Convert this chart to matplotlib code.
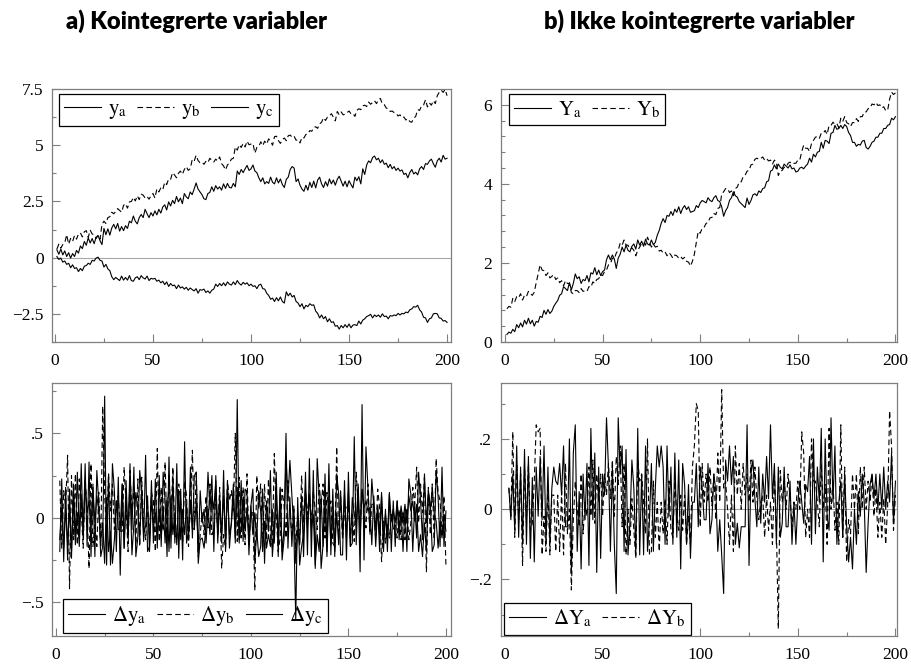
import numpy as np
import matplotlib
matplotlib.use("Agg")
import matplotlib.pyplot as plt
from matplotlib.ticker import MultipleLocator, FuncFormatter

plt.rcParams['mathtext.fontset'] = 'stix'
plt.rcParams['font.family'] = 'Liberation Serif'

# panel a) levels, t = 1..200
y_a = [0.35, 0.15, 0.38, 0.12, 0.30, 0.05, 0.22, -0.02, 0.18, 0.05,
       0.32, 0.20, 0.52, 0.40, 0.72, 0.55, 0.88, 0.65, 0.85, 0.62,
       0.90, 0.98, 0.75, 0.58, 1.30, 1.02, 1.28, 1.00, 1.32, 1.48,
       1.28, 1.52, 1.18, 1.38, 1.20, 1.42, 1.30, 1.62, 1.55, 1.85,
       1.62, 1.50, 1.78, 1.92, 1.78, 2.15, 1.95, 1.78, 2.00, 1.85,
       2.08, 1.90, 2.15, 1.98, 2.25, 2.35, 2.12, 2.48, 2.30, 2.55,
       2.40, 2.72, 2.48, 2.65, 2.40, 2.85, 2.70, 2.62, 2.92, 2.80,
       3.05, 3.32, 3.05, 2.92, 2.80, 2.62, 2.58, 2.85, 2.90, 3.15,
       2.95, 3.20, 3.05, 3.15, 3.00, 3.28, 3.08, 3.30, 3.12, 3.10,
       3.30, 3.15, 3.85, 3.70, 3.92, 3.78, 3.95, 4.10, 3.88, 3.95,
       4.12, 3.85, 3.78, 3.55, 3.38, 3.55, 3.28, 3.38, 3.30, 3.58,
       3.35, 3.28, 3.55, 3.32, 3.50, 3.25, 3.12, 3.48, 3.58, 3.92,
       4.05, 3.98, 3.38, 3.50, 3.22, 3.05, 2.95, 3.22, 3.00, 3.35,
       3.12, 3.40, 3.10, 3.45, 3.58, 3.28, 3.12, 3.38, 3.18, 3.50,
       3.28, 3.45, 3.22, 3.48, 3.62, 3.40, 3.18, 3.40, 3.15, 3.42,
       3.25, 3.10, 3.58, 3.42, 3.60, 3.28, 3.95, 3.70, 4.12, 4.30,
       4.22, 4.45, 4.52, 4.35, 4.42, 4.22, 4.35, 4.15, 4.20, 4.00,
       4.15, 3.95, 4.05, 3.88, 3.98, 3.85, 3.90, 3.70, 3.75, 3.55,
       3.78, 3.92, 3.72, 3.80, 3.68, 3.95, 4.05, 3.92, 4.18, 4.15,
       4.30, 4.38, 4.18, 4.02, 4.30, 4.42, 4.25, 4.55, 4.38, 4.42]

y_b = [0.38, 0.60, 0.42, 0.58, 0.65, 1.02, 0.60, 0.85, 0.72, 0.98,
       0.82, 1.05, 1.10, 0.92, 1.15, 1.20, 0.90, 1.22, 1.05, 1.02,
       0.85, 1.00, 0.82, 1.48, 1.62, 1.52, 1.78, 1.82, 2.02, 1.95,
       2.05, 2.18, 2.10, 2.02, 2.32, 2.40, 2.20, 2.48, 2.50, 2.68,
       2.52, 2.75, 2.58, 2.82, 2.78, 2.65, 2.72, 2.60, 2.75, 2.85,
       2.65, 3.06, 2.92, 3.10, 3.02, 3.35, 3.25, 3.50, 3.48, 3.78,
       3.68, 3.55, 3.75, 3.85, 3.70, 3.92, 4.05, 3.88, 3.95, 4.35,
       4.28, 4.55, 4.32, 4.22, 4.25, 4.15, 4.28, 4.22, 4.42, 4.32,
       4.25, 4.38, 4.30, 4.48, 4.18, 4.08, 3.90, 4.12, 4.22, 4.38,
       4.42, 4.92, 4.78, 5.02, 4.90, 5.08, 4.92, 5.18, 5.02, 5.05,
       5.08, 4.65, 4.90, 4.95, 5.15, 4.98, 5.18, 5.05, 5.28, 5.18,
       5.00, 5.38, 5.40, 5.20, 5.08, 5.25, 5.32, 5.20, 5.42, 5.45,
       5.35, 5.40, 5.22, 5.25, 5.10, 5.35, 5.32, 5.48, 5.50, 5.65,
       5.62, 5.78, 5.82, 5.75, 5.95, 6.02, 6.22, 6.10, 6.25, 6.30,
       6.40, 6.25, 6.08, 6.50, 6.35, 6.48, 6.35, 6.38, 6.45, 6.52,
       6.40, 6.42, 6.28, 6.55, 6.62, 6.58, 6.75, 6.78, 6.72, 6.92,
       6.82, 6.90, 6.98, 6.85, 7.02, 7.08, 6.82, 6.80, 6.65, 6.62,
       6.50, 6.52, 6.45, 6.42, 6.30, 6.35, 6.22, 6.25, 6.12, 6.18,
       6.05, 6.02, 6.20, 6.28, 6.58, 6.55, 6.75, 6.78, 7.02, 6.70,
       6.88, 6.78, 6.98, 6.85, 7.20, 7.35, 7.45, 7.35, 7.48, 7.20]

y_c = [0.05, -0.08, -0.02, -0.20, -0.15, -0.30, -0.25, -0.45, -0.32, -0.48,
       -0.45, -0.62, -0.48, -0.58, -0.38, -0.35, -0.25, -0.30, -0.12, -0.15,
       -0.02, 0.02, -0.12, -0.15, -0.42, -0.30, -0.50, -0.58, -0.85, -0.98,
       -0.88, -0.95, -1.02, -0.82, -1.00, -0.88, -1.00, -0.80, -1.02, -1.05,
       -0.90, -0.85, -0.98, -0.80, -0.90, -0.95, -0.82, -1.02, -0.92, -0.95,
       -0.92, -1.05, -1.00, -1.12, -1.05, -1.20, -1.08, -1.28, -1.15, -1.25,
       -1.22, -1.38, -1.22, -1.35, -1.30, -1.40, -1.32, -1.45, -1.35, -1.42,
       -1.48, -1.38, -1.58, -1.42, -1.45, -1.40, -1.55, -1.48, -1.58, -1.45,
       -1.40, -1.18, -1.28, -1.15, -1.25, -1.12, -1.25, -1.08, -1.18, -1.22,
       -1.08, -1.20, -1.02, -1.15, -1.22, -1.10, -1.18, -1.12, -1.25, -1.18,
       -1.28, -1.25, -1.38, -1.22, -1.18, -1.38, -1.40, -1.58, -1.68, -1.85,
       -1.80, -1.95, -1.78, -1.92, -1.75, -1.95, -2.02, -1.52, -1.70, -1.58,
       -1.75, -1.68, -1.95, -2.02, -2.18, -2.05, -2.28, -2.12, -2.18, -2.05,
       -2.12, -2.10, -2.38, -2.48, -2.68, -2.55, -2.72, -2.62, -2.85, -2.72,
       -2.88, -2.85, -3.05, -3.02, -3.18, -3.02, -3.12, -2.98, -3.10, -2.95,
       -3.12, -3.00, -2.98, -3.02, -2.82, -2.95, -2.78, -2.72, -2.62, -2.58,
       -2.52, -2.68, -2.55, -2.62, -2.55, -2.65, -2.50, -2.62, -2.60, -2.72,
       -2.58, -2.60, -2.55, -2.58, -2.48, -2.55, -2.48, -2.50, -2.42, -2.45,
       -2.32, -2.28, -2.18, -2.20, -2.12, -2.32, -2.42, -2.65, -2.68, -2.88,
       -2.72, -2.68, -2.50, -2.48, -2.50, -2.68, -2.70, -2.82, -2.80, -2.88]

# panel b) levels, t = 1..200
Y_a = [0.19, 0.25, 0.22, 0.32, 0.26, 0.44, 0.36, 0.48, 0.38, 0.55,
       0.45, 0.60, 0.46, 0.55, 0.40, 0.52, 0.50, 0.65, 0.62, 0.80,
       0.70, 0.82, 0.72, 0.78, 0.90, 0.98, 1.05, 1.18, 1.22, 1.40,
       1.35, 1.30, 1.50, 1.32, 1.48, 1.72, 1.60, 1.65, 1.48, 1.58,
       1.55, 1.68, 1.52, 1.75, 1.72, 1.88, 1.70, 1.82, 1.68, 1.78,
       1.82, 2.08, 2.20, 2.08, 2.20, 2.10, 1.86, 2.12, 2.22, 2.40,
       2.28, 2.45, 2.32, 2.28, 2.42, 2.48, 2.35, 2.58, 2.45, 2.55,
       2.42, 2.60, 2.48, 2.45, 2.58, 2.46, 2.52, 2.70, 2.82, 3.00,
       3.12, 3.02, 3.20, 3.18, 3.30, 3.20, 3.36, 3.28, 3.42, 3.25,
       3.38, 3.45, 3.35, 3.42, 3.28, 3.30, 3.32, 3.45, 3.40, 3.52,
       3.58, 3.55, 3.52, 3.65, 3.58, 3.55, 3.65, 3.70, 3.58, 3.55,
       3.42, 3.18, 3.32, 3.40, 3.58, 3.65, 3.80, 3.70, 3.66, 3.55,
       3.50, 3.45, 3.40, 3.64, 3.48, 3.58, 3.72, 3.75, 3.70, 3.82,
       3.78, 3.88, 3.90, 4.05, 4.08, 4.32, 4.35, 4.48, 4.38, 4.50,
       4.42, 4.38, 4.50, 4.45, 4.40, 4.48, 4.38, 4.40, 4.30, 4.32,
       4.40, 4.42, 4.38, 4.45, 4.50, 4.65, 4.55, 4.75, 4.68, 4.80,
       4.82, 5.05, 4.90, 5.10, 5.08, 5.02, 5.28, 5.30, 5.48, 5.38,
       5.40, 5.48, 5.40, 5.50, 5.45, 5.30, 5.22, 5.05, 5.05, 4.95,
       5.00, 4.98, 5.08, 5.10, 4.92, 4.88, 4.95, 5.05, 5.08, 5.18,
       5.18, 5.28, 5.28, 5.40, 5.40, 5.48, 5.50, 5.66, 5.62, 5.70]

Y_b = [0.84, 0.90, 0.88, 1.10, 1.02, 1.15, 1.12, 1.22, 1.06, 1.18,
       1.15, 1.28, 1.22, 1.18, 1.26, 1.50, 1.72, 1.95, 1.82, 1.80,
       1.68, 1.75, 1.62, 1.66, 1.70, 1.58, 1.62, 1.50, 1.55, 1.42,
       1.55, 1.48, 1.48, 1.25, 1.22, 1.30, 1.30, 1.25, 1.35, 1.28,
       1.30, 1.28, 1.40, 1.38, 1.52, 1.48, 1.58, 1.60, 1.70, 1.68,
       1.78, 1.82, 1.95, 1.98, 2.12, 2.10, 2.25, 2.32, 2.50, 2.45,
       2.58, 2.45, 2.45, 2.35, 2.38, 2.32, 2.18, 2.32, 2.40, 2.50,
       2.52, 2.45, 2.65, 2.52, 2.40, 2.48, 2.40, 2.42, 2.30, 2.32,
       2.25, 2.28, 2.18, 2.26, 2.20, 2.12, 2.20, 2.18, 2.12, 2.16,
       2.10, 2.14, 2.04, 2.02, 1.92, 2.04, 2.22, 2.52, 2.80, 2.75,
       2.88, 2.90, 3.00, 3.02, 3.14, 3.15, 3.25, 3.22, 3.38, 3.40,
       3.74, 3.80, 3.88, 3.88, 3.78, 3.82, 3.70, 3.88, 3.92, 4.05,
       4.05, 4.18, 4.22, 4.32, 4.34, 4.48, 4.50, 4.62, 4.65, 4.62,
       4.64, 4.68, 4.60, 4.64, 4.58, 4.60, 4.50, 4.60, 4.55, 4.21,
       4.32, 4.34, 4.42, 4.42, 4.52, 4.55, 4.50, 4.52, 4.52, 4.60,
       4.60, 4.82, 4.98, 4.90, 4.90, 4.82, 5.02, 5.10, 5.18, 5.20,
       5.15, 5.28, 5.28, 5.35, 5.25, 5.48, 5.48, 5.56, 5.50, 5.52,
       5.42, 5.66, 5.58, 5.70, 5.55, 5.52, 5.45, 5.55, 5.55, 5.65,
       5.58, 5.70, 5.70, 5.82, 5.82, 5.90, 5.92, 6.02, 6.00, 6.06,
       5.98, 6.00, 5.92, 5.95, 5.85, 5.86, 6.14, 6.32, 6.26, 6.30]

t = np.arange(1, 201)
dt = t[1:]

titles = ['a) Kointegrerte variabler', 'b) Ikke kointegrerte variabler']

LW = 0.8
DASH = (5, 3)
SPINE = '#7f7f7f'


def minus(s):
    return s.replace('-', '\u2212')


def fmt_plain(v, pos):
    return minus('%g' % v)


def fmt_nolead(v, pos):
    s = '%g' % v
    s = s.replace('0.', '.')
    return minus(s)


def style(ax, ylim, major, minor, fmt, xlim):
    ax.set_xlim(*xlim)
    ax.set_ylim(*ylim)
    ax.xaxis.set_major_locator(MultipleLocator(50))
    ax.xaxis.set_minor_locator(MultipleLocator(25))
    ax.yaxis.set_major_locator(MultipleLocator(major))
    ax.yaxis.set_minor_locator(MultipleLocator(minor))
    ax.yaxis.set_major_formatter(FuncFormatter(fmt))
    ax.tick_params(which='both', direction='in', top=False, right=False,
                   color=SPINE, labelsize=12.5)
    ax.tick_params(which='major', length=6, width=0.8)
    ax.tick_params(which='minor', length=3, width=0.8)
    ax.tick_params(axis='x', pad=8)
    ax.tick_params(axis='y', pad=6)
    for sp in ax.spines.values():
        sp.set_color(SPINE)
        sp.set_linewidth(0.9)
    ax.axhline(0, color='#a6a6a6', lw=0.8, zorder=1)


def add_legend(ax, loc, anchor):
    leg = ax.legend(loc=loc, bbox_to_anchor=anchor, borderaxespad=0,
                    ncol=3, fontsize=15, frameon=True, fancybox=False,
                    framealpha=1, edgecolor='black', handlelength=1.75,
                    handletextpad=0.35, columnspacing=0.5, borderpad=0.25)
    leg.get_frame().set_linewidth(0.9)
    leg.set_zorder(1.5)
    return leg


fig = plt.figure(figsize=(9.12, 6.64), dpi=100)
ax1 = fig.add_axes([0.057, 0.485, 0.4375, 0.381])
ax2 = fig.add_axes([0.549, 0.485, 0.435, 0.381])
ax3 = fig.add_axes([0.057, 0.0422, 0.4375, 0.3815])
ax4 = fig.add_axes([0.549, 0.0426, 0.435, 0.3811])

# a) levels
ax1.plot(t, y_a, color='black', lw=LW, label=r'$\mathrm{y}_{\mathrm{a}}$')
ax1.plot(t, y_b, color='black', lw=LW, dashes=DASH, label=r'$\mathrm{y}_{\mathrm{b}}$')
ax1.plot(t, y_c, color='black', lw=LW, label=r'$\mathrm{y}_{\mathrm{c}}$')
style(ax1, (-3.75, 7.5), 2.5, 1.25, fmt_plain, (-1.5, 202))
add_legend(ax1, 'upper left', (0.0175, 0.98))

# b) levels
ax2.plot(t, Y_a, color='black', lw=LW, label=r'$\mathrm{Y}_{\mathrm{a}}$')
ax2.plot(t, Y_b, color='black', lw=LW, dashes=DASH, label=r'$\mathrm{Y}_{\mathrm{b}}$')
style(ax2, (0, 6.4), 2, 0.4, fmt_plain, (-2.2, 201))
add_legend(ax2, 'upper left', (0.021, 0.98))

# a) differences
ax3.plot(dt, np.diff(y_a), color='black', lw=LW, label=r'$\Delta\mathrm{y}_{\mathrm{a}}$')
ax3.plot(dt, np.diff(y_b), color='black', lw=LW, dashes=DASH, label=r'$\Delta\mathrm{y}_{\mathrm{b}}$')
ax3.plot(dt, np.diff(y_c), color='black', lw=LW, label=r'$\Delta\mathrm{y}_{\mathrm{c}}$')
style(ax3, (-0.70, 0.80), 0.5, 0.25, fmt_nolead, (-2, 202.6))
add_legend(ax3, 'lower left', (0.028, 0.011))

# b) differences
ax4.plot(dt, np.diff(Y_a), color='black', lw=LW, label=r'$\Delta\mathrm{Y}_{\mathrm{a}}$')
ax4.plot(dt, np.diff(Y_b), color='black', lw=LW, dashes=DASH, label=r'$\Delta\mathrm{Y}_{\mathrm{b}}$')
style(ax4, (-0.36, 0.36), 0.2, 0.1, fmt_nolead, (-2.2, 201))
add_legend(ax4, 'lower left', (0.009, 0.003))

fig.text(0.216, 0.968, titles[0], fontfamily='Lato', fontweight='heavy',
         fontsize=17, ha='center', va='center')
fig.text(0.767, 0.968, titles[1], fontfamily='Lato', fontweight='heavy',
         fontsize=17, ha='center', va='center')

fig.savefig('out.png', dpi=100)
